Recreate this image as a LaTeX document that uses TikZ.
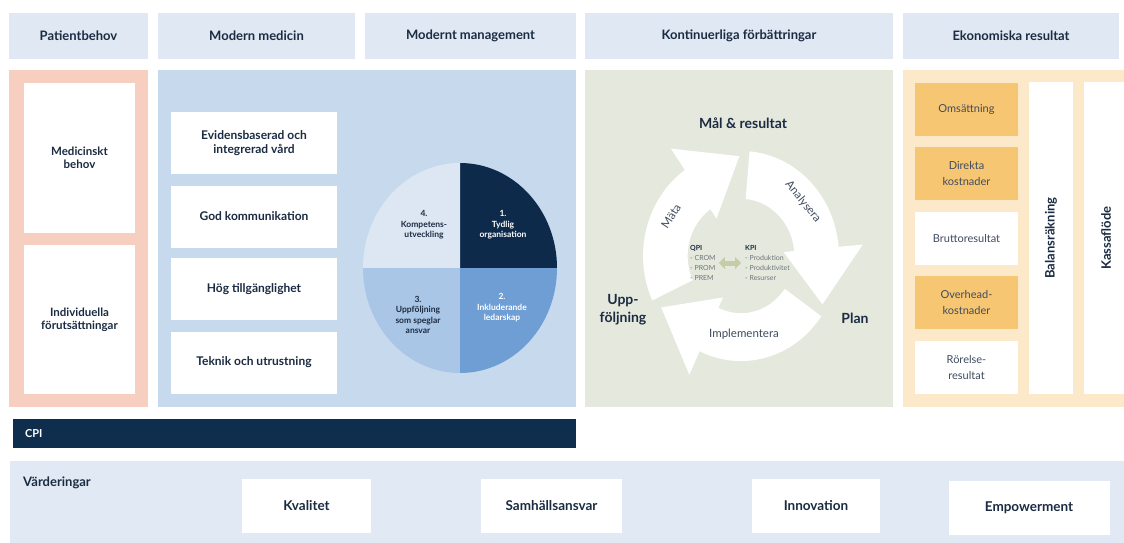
\documentclass[tikz,border=0pt]{standalone}
\usepackage{fontspec}
\setmainfont{Lato}
\usetikzlibrary{arrows.meta}
\definecolor{ink}{HTML}{1B2B42}
\definecolor{inkgray}{HTML}{3F4C5E}
\definecolor{headbg}{HTML}{DFE8F3}
\definecolor{pinkbg}{HTML}{F7CFC1}
\definecolor{bluebg}{HTML}{C7D9ED}
\definecolor{greenbg}{HTML}{E5E8DD}
\definecolor{peachbg}{HTML}{FCE9C9}
\definecolor{orangebox}{HTML}{F7C673}
\definecolor{navybar}{HTML}{0F2D4D}
\definecolor{pieone}{HTML}{0E2A4B}
\definecolor{pietwo}{HTML}{6F9ED4}
\definecolor{piethree}{HTML}{AAC6E7}
\definecolor{piefour}{HTML}{DDE7F3}
\definecolor{valuebg}{HTML}{E1EAF4}
\definecolor{kpiarrow}{HTML}{C5CCA8}
\definecolor{kpitext}{HTML}{6B777C}
\tikzset{
	header/.style={rectangle, inner sep=0pt, minimum height=46pt, fill=headbg, text=ink, font=\fontsize{13}{15}\selectfont\bfseries},
	panel/.style={rectangle, inner sep=0pt, minimum height=337pt},
	card/.style={rectangle, inner sep=0pt, fill=white, text=ink, align=center, font=\fontsize{12}{13.5}\selectfont\bfseries},
	ecobox/.style={rectangle, inner sep=0pt, minimum width=103pt, minimum height=53pt, align=center, text=inkgray, font=\fontsize{11}{16}\selectfont},
	ecobar/.style={rectangle, inner sep=0pt, fill=white, minimum width=312pt, minimum height=44pt, rotate=90, text=ink, font=\fontsize{13}{15}\selectfont\bfseries},
	value/.style={rectangle, inner sep=0pt, fill=white, minimum height=54pt, text=ink, font=\fontsize{13.5}{15}\selectfont\bfseries},
	slice/.style={align=center, font=\fontsize{8.5}{10.5}\selectfont\bfseries},
	cyclebig/.style={align=center, text=ink, font=\fontsize{14}{18}\selectfont\bfseries},
	cyclestep/.style={text=inkgray, font=\fontsize{11.5}{13}\selectfont},
	kpilist/.style={align=left, inner sep=0pt, text=kpitext, font=\fontsize{7}{10}\selectfont},
}

\begin{document}
\begin{tikzpicture}[x=1pt, y=-1pt]
	\useasboundingbox (0,0) rectangle (1124,543);
	
	% header row
	\node (hpat) [header, minimum width=139pt] at (78.5,36) {Patientbehov};
	\node (hmed) [header, minimum width=197pt] at (256.5,36) {Modern medicin};
	\node (hman) [header, minimum width=211pt] at (470.5,36) {Modernt management};
	\node (hkon) [header, minimum width=308pt] at (739,36) {Kontinuerliga förbättringar};
	\node (heko) [header, minimum width=216pt] at (1011,36) {Ekonomiska resultat};
	
	% main panels
	\node (ppat) [panel, fill=pinkbg, minimum width=139pt] at (78.5,238.5) {};
	\node (pmed) [panel, fill=bluebg, minimum width=418pt] at (367,238.5) {};
	\node (pkon) [panel, fill=greenbg, minimum width=308pt] at (739,238.5) {};
	\node (peko) [panel, fill=peachbg, minimum width=227pt] at (1016.5,238.5) {};
	
	% patientbehov
	\node (medbehov) [card, minimum width=111pt, minimum height=150pt, font=\fontsize{11.5}{13}\selectfont\bfseries] at (79.5,158) {Medicinskt\\behov};
	\node (indiv) [card, minimum width=111pt, minimum height=149pt, font=\fontsize{11.5}{13}\selectfont\bfseries] at (79.5,319.5) {Individuella\\förutsättningar};
	
	% modern medicin
	\node (evid) [card, minimum width=166pt, minimum height=62pt] at (254,143) {Evidensbaserad och\\integrerad vård};
	\node (komm) [card, minimum width=166pt, minimum height=62pt] at (254,216.5) {God kommunikation};
	\node (tillg) [card, minimum width=166pt, minimum height=62pt] at (254,289) {Hög tillgänglighet};
	\node (tekn) [card, minimum width=166pt, minimum height=62pt] at (254,362.5) {Teknik och utrustning};
	
	% modernt management
	\begin{scope}[shift={(460,268)}, yscale=-1]
		\fill[pieone] (0,0) -- (0:97 and 105) arc[start angle=0, end angle=90, x radius=97, y radius=105] -- cycle;
		\fill[piefour] (0,0) -- (90:97 and 105) arc[start angle=90, end angle=180, x radius=97, y radius=105] -- cycle;
		\fill[piethree] (0,0) -- (180:97 and 105) arc[start angle=180, end angle=270, x radius=97, y radius=105] -- cycle;
		\fill[pietwo] (0,0) -- (270:97 and 105) arc[start angle=270, end angle=360, x radius=97, y radius=105] -- cycle;
	\end{scope}
	\node (sone) [slice, text=white] at (503,225) {1.\\Tydlig\\organisation};
	\node (stwo) [slice, text=white] at (502,308) {2.\\Inkluderande\\ledarskap};
	\node (sthree) [slice, text=ink] at (418,315) {3.\\Uppföljning\\som speglar\\ansvar};
	\node (sfour) [slice, text=ink] at (424,225) {4.\\Kompetens-\\utveckling};
	
	% kontinuerliga förbättringar
	\begin{scope}[shift={(741,256)}, xscale=0.97, yscale=-1.04]
		\foreach \t in {205,85,-35}
		\fill[white] (\t:55) -- (\t:101) arc[start angle=\t, end angle=\t-80, radius=101]
		-- (\t-80:126) -- (\t-114:96) -- (\t-80:44) -- (\t-80:55)
		arc[start angle=\t-80, end angle=\t, radius=55] -- cycle;
	\end{scope}
	\node (mal) [cyclebig] at (743,123) {Mål \& resultat};
	\node (uppf) [cyclebig] at (623,310) {Upp-\\följning};
	\node (plan) [cyclebig] at (855,318) {Plan};
	\node (mata) [cyclestep, rotate=57] at (671,216) {Mäta};
	\node (anal) [cyclestep, rotate=-51] at (803,202) {Analysera};
	\node (impl) [cyclestep] at (744,334) {Implementera};
	\node (qpi) [kpilist, anchor=west] at (690,263) {\textcolor{ink}{\textbf{QPI}}\\- CROM\\- PROM\\- PREM};
	\node (kpi) [kpilist, anchor=west] at (745,263) {\textcolor{ink}{\textbf{KPI}}\\- Produktion\\- Produktivitet\\- Resurser};
	\draw[kpiarrow, line width=5pt, {Triangle[width=12pt, length=6pt]}-{Triangle[width=12pt, length=6pt]}, shorten <=3pt, shorten >=4pt] (qpi) -- (kpi);
	
	% ekonomiska resultat
	\node (oms) [ecobox, fill=orangebox] at (966.5,109.5) {Omsättning};
	\node (dir) [ecobox, fill=orangebox] at (966.5,173.5) {Direkta\\kostnader};
	\node (brutto) [ecobox, fill=white] at (966.5,238.5) {Bruttoresultat};
	\node (over) [ecobox, fill=orangebox] at (966.5,302.5) {Overhead-\\kostnader};
	\node (rorelse) [ecobox, fill=white] at (966.5,367) {Rörelse-\\resultat};
	\node (balans) [ecobar] at (1051,238) {Balansräkning};
	\node (kassa) [ecobar] at (1106,238) {Kassaflöde};
	
	% CPI bar
	\node (cpi) [rectangle, fill=navybar, text=white, minimum height=29pt, text width=539pt, inner xsep=12pt, inner ysep=0pt, align=left, font=\fontsize{11}{13}\selectfont\bfseries] at (294.5,433.5) {CPI};
	
	% värderingar
	\node (vard) [rectangle, fill=valuebg, inner sep=0pt, minimum width=1120pt, minimum height=89pt] at (570,505.5) {};
	\node (vardtitle) [anchor=west, inner sep=0pt, text=ink, font=\fontsize{13}{15}\selectfont\bfseries] at (23,483) {Värderingar};
	\node (kval) [value, minimum width=129pt] at (306.5,505.5) {Kvalitet};
	\node (samh) [value, minimum width=141pt] at (551.5,505.5) {Samhällsansvar};
	\node (innov) [value, minimum width=128pt] at (816,506) {Innovation};
	\node (empow) [value, minimum width=161pt] at (1029,508) {Empowerment};
	
\end{tikzpicture}
\end{document}
